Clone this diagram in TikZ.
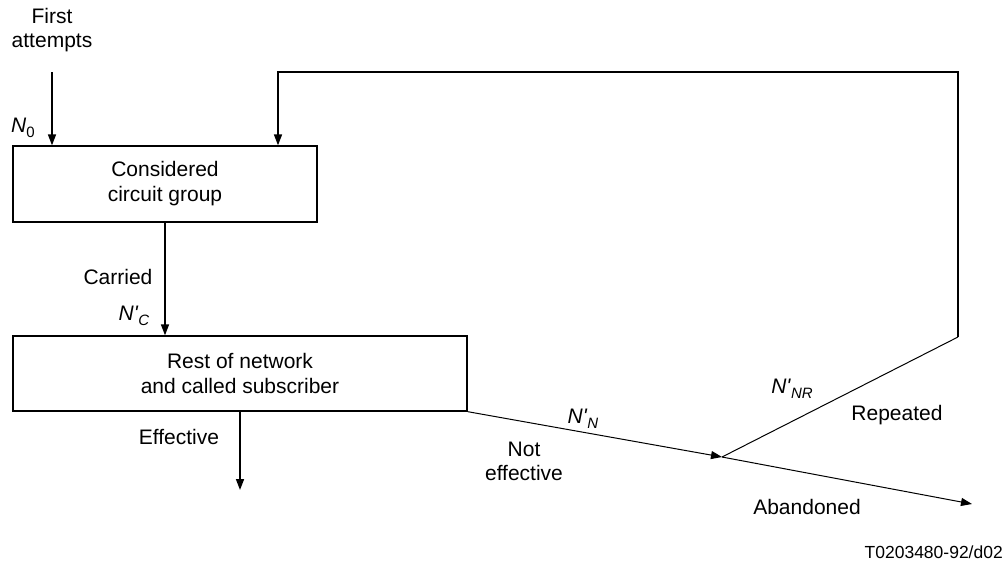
\documentclass[tikz,border=0pt]{standalone}
\usepackage{fontspec}
\setmainfont{Liberation Sans}[Ligatures=TeXOff]
\usetikzlibrary{arrows.meta}
\newcommand{\lbl}[2]{\textit{#1}\raisebox{-0.45ex}{\fontsize{15}{15}\selectfont #2}}
\begin{document}
\begin{tikzpicture}[x=1pt,y=-1pt,
  txt/.style={font=\fontsize{21}{24}\selectfont, inner sep=0pt, align=center},
  box/.style={draw, line width=1.3pt, font=\fontsize{21}{25}\selectfont, align=center, inner sep=0pt},
  flow/.style={line width=1.6pt, -{Triangle[length=11pt,width=8pt]}},
  thin/.style={line width=1pt, -{Triangle[length=11pt,width=8pt]}}]
\useasboundingbox (0,0) rectangle (1006,563);
\node[box, minimum width=304pt, minimum height=76pt] (b1) at (165,184) {Considered\\circuit group};
\node[box, minimum width=454pt, minimum height=75pt] (b2) at (240,373.5) {Rest of network\\and called subscriber};
\coordinate (fa) at (52,72);
\coordinate (tl) at (278,72);
\coordinate (tr) at (958,72);
\coordinate (rb) at (958,337);
\coordinate (j) at (722,457);
\coordinate (ab) at (972,504);
\coordinate (ef) at (240,490);
\draw[flow] (fa) -- (fa |- b1.north);
\draw[flow] (b1.south -| 165,0) -- (b2.north -| 165,0);
\draw[flow] (b2.south -| 240,0) -- (ef);
\draw[thin] (b2.south east) -- (j);
\draw[thin] (j) -- (ab);
\draw[line width=1pt] (j) -- (rb);
\draw[flow, line width=1.6pt] (rb) -- (tr) -- (tl) -- (tl |- b1.north);
\node[txt] (t1) at (52,30) {First\\attempts};
\node[txt] (n0) at (23,128) {\lbl{N}{0}};
\node[txt] (car) at (118,277) {Carried};
\node[txt] (nc) at (134,316) {\lbl{N'}{\textit{C}}};
\node[txt] (eff) at (179,437) {Effective};
\node[txt] (ne) at (524,461) {Not\\effective};
\node[txt] (nn) at (583,419) {\lbl{N'}{\textit{N}}};
\node[txt] (nnr) at (792,389) {\lbl{N'}{\textit{NR}}};
\node[txt] (rep) at (897,415) {Repeated};
\node[txt] (abn) at (807,507) {Abandoned};
\node[txt, anchor=east, font=\fontsize{17.5}{20}\selectfont] (id) at (1003,552) {T0203480-92/d02};
\end{tikzpicture}
\end{document}
